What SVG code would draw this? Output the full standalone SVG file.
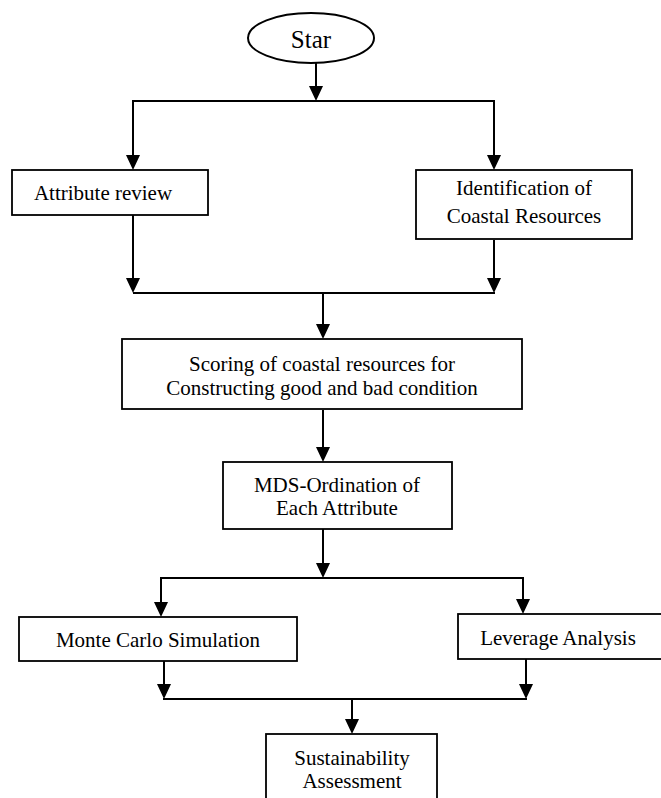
<svg xmlns="http://www.w3.org/2000/svg" width="661" height="798" viewBox="0 0 661 798">
<defs>
<style>
.box{fill:#fff;stroke:#000;stroke-width:1.8}
.ln{fill:none;stroke:#000;stroke-width:2}
.ar{fill:none;stroke:#000;stroke-width:2;marker-end:url(#ah)}
text{font-family:"Liberation Serif","Times New Roman",serif;font-size:21px;fill:#000;text-anchor:middle}
</style>
<marker id="ah" markerUnits="userSpaceOnUse" viewBox="0 0 15 14" refX="13" refY="7" markerWidth="15" markerHeight="14" orient="auto">
<path d="M0,0 L15,7 L0,14 z" fill="#000"/>
</marker>
</defs>
<rect width="661" height="798" fill="#fff"/>
<g id="connectors">
<line class="ar" x1="316" y1="63" x2="316" y2="99"/>
<line class="ln" x1="132" y1="101" x2="495" y2="101"/>
<line class="ar" x1="133" y1="101" x2="133" y2="168"/>
<line class="ar" x1="494" y1="101" x2="494" y2="168"/>
<line class="ar" x1="133" y1="215" x2="133" y2="291"/>
<line class="ar" x1="494" y1="240" x2="494" y2="291"/>
<line class="ln" x1="133" y1="293" x2="495" y2="293"/>
<line class="ar" x1="323" y1="293" x2="323" y2="337"/>
<line class="ar" x1="323" y1="410" x2="323" y2="460"/>
<line class="ar" x1="323" y1="529" x2="323" y2="576"/>
<line class="ln" x1="160" y1="578" x2="524" y2="578"/>
<line class="ar" x1="161" y1="578" x2="161" y2="615"/>
<line class="ar" x1="523" y1="578" x2="523" y2="612"/>
<line class="ar" x1="164" y1="661" x2="164" y2="697"/>
<line class="ar" x1="526" y1="659" x2="526" y2="697"/>
<line class="ln" x1="163" y1="699" x2="527" y2="699"/>
<line class="ar" x1="352" y1="699" x2="352" y2="732"/>
</g>
<g id="start">
<ellipse cx="311" cy="38" rx="63" ry="25" fill="#fff" stroke="#000" stroke-width="2"/>
<text x="311" y="48" style="font-size:25px">Star</text>
</g>
<g id="attribute-review">
<rect class="box" x="12" y="170" width="196" height="45"/>
<text x="103" y="200">Attribute review</text>
</g>
<g id="identification">
<rect class="box" x="416" y="170" width="216" height="69"/>
<text x="524" y="195">Identification of</text>
<text x="524" y="223">Coastal Resources</text>
</g>
<g id="scoring">
<rect class="box" x="122" y="339" width="400" height="70"/>
<text x="322" y="371">Scoring of coastal resources for</text>
<text x="322" y="395">Constructing good and bad condition</text>
</g>
<g id="mds">
<rect class="box" x="223" y="462" width="229" height="67"/>
<text x="337" y="492">MDS-Ordination of</text>
<text x="337" y="515">Each Attribute</text>
</g>
<g id="monte-carlo">
<rect class="box" x="19" y="617" width="278" height="44"/>
<text x="158" y="647">Monte Carlo Simulation</text>
</g>
<g id="leverage">
<rect class="box" x="458" y="614" width="210" height="45"/>
<text x="558" y="645">Leverage Analysis</text>
</g>
<g id="sustainability">
<rect class="box" x="266" y="734" width="171" height="80"/>
<text x="352" y="765">Sustainability</text>
<text x="352" y="788">Assessment</text>
</g>
</svg>
